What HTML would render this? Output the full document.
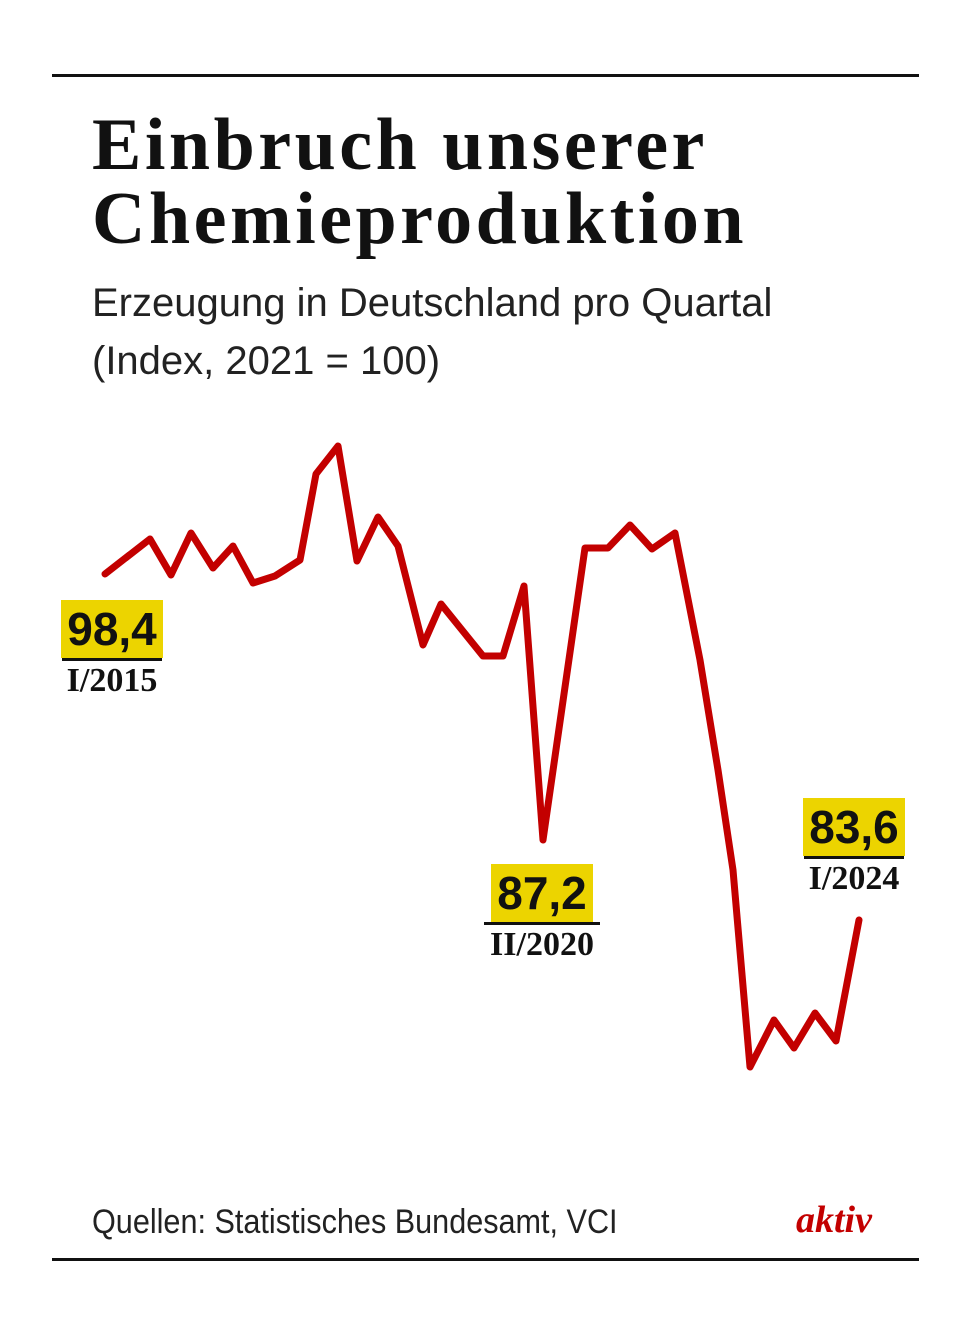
<!DOCTYPE html>
<html><head><meta charset="utf-8"><style>
body{margin:0;width:970px;height:1339px;background:#fff;position:relative;overflow:hidden;font-family:"Liberation Sans",sans-serif}
.rule{position:absolute;left:52px;width:867px;height:3px;background:#111}
.t{position:absolute;left:92px;font-family:"Liberation Serif",serif;font-size:74px;line-height:74px;color:#111;font-weight:bold;letter-spacing:3.5px;white-space:nowrap}
.s{position:absolute;left:92px;font-size:40px;line-height:58px;color:#222;transform:scaleX(1.0);transform-origin:left top;white-space:nowrap}
.lab{position:absolute;text-align:center}
.v{background:#ecd400;font-weight:bold;font-size:46px;line-height:58px;padding:0 6px;color:#111;display:inline-block}
.y{font-family:"Liberation Serif",serif;font-weight:bold;font-size:34px;line-height:40px;color:#111;border-top:3px solid #111;margin:0 6px}
</style></head><body>
<div class="rule" style="top:74px"></div>
<div class="t" style="top:108px">Einbruch unserer<br>Chemieproduktion</div>
<div class="s" style="top:274px">Erzeugung in Deutschland pro Quartal<br>(Index, 2021 = 100)</div>
<svg style="position:absolute;left:0;top:0" width="970" height="1339">
<polyline fill="none" stroke="#c30000" stroke-width="7" stroke-linejoin="round" stroke-linecap="round" points="105,574 150,539 171,575 191,533 213,568 233,546 253,583 275,576 300,560 316,474 338,446 357,561 378,517 398,546 423,645 441,604 483,656 503,656 524,586 543,840 585,548 608,548 630,525 652,549 675,533 700,660 718,770 733,870 750,1067 774,1020 794,1048 815,1013 836,1041 859,920"/>
</svg>
<div class="lab" style="left:56px;top:600px;width:112px"><div class="v">98,4</div><div class="y">I/2015</div></div>
<div class="lab" style="left:478px;top:864px;width:128px"><div class="v">87,2</div><div class="y">II/2020</div></div>
<div class="lab" style="left:798px;top:798px;width:112px"><div class="v">83,6</div><div class="y">I/2024</div></div>
<div class="s" style="top:1193px;font-size:34px;transform:scaleX(0.9)">Quellen: Statistisches Bundesamt, VCI</div>
<div style="position:absolute;left:796px;top:1198px;font-family:'Liberation Serif',serif;font-style:italic;font-weight:bold;font-size:38px;color:#c30000">aktiv</div>
<div class="rule" style="top:1258px"></div>
</body></html>
